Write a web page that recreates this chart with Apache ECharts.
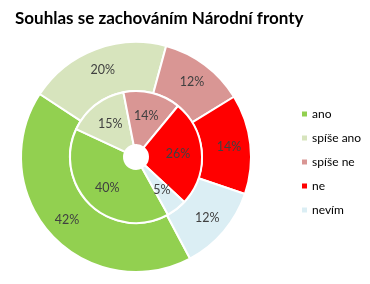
<!DOCTYPE html>
<html><head><meta charset="utf-8">
<script src="https://cdn.jsdelivr.net/npm/echarts@6/dist/echarts.min.js"></script>
<style>html,body{margin:0;padding:0;background:#fff}#c{width:370px;height:284px}</style>
</head><body><div id="c"></div>
<script>
const categories = ['ano', 'spíše ano', 'spíše ne', 'ne', 'nevím'];
const populace = [42, 20, 12, 14, 12];
const clenove = [40, 15, 14, 26, 5];
const colors = ['#92D050', '#D7E4BD', '#D99694', '#FF0000', '#DBEEF4'];
const fontFam = 'Lato, "Open Sans", sans-serif';

const chart = echarts.init(document.getElementById('c'), null, {renderer: 'canvas'});
function mk(vals) {
  return categories.map((n, i) => ({name: n, value: vals[i], itemStyle: {color: colors[i]}}));
}
const lbl = {
  show: true, position: 'inside', formatter: '{c}%',
  color: '#404040', fontSize: 12.5, fontFamily: fontFam
};
chart.setOption({
  animation: false,
  title: {
    text: 'Souhlas se zachováním Národní fronty', left: 10, top: 5,
    textStyle: {fontSize: 17, fontWeight: 'bold', color: '#000', fontFamily: fontFam}
  },
  legend: {
    orient: 'vertical', left: 295, top: 103, itemWidth: 7, itemHeight: 7, itemGap: 12,
    icon: 'rect', data: categories,
    textStyle: {fontSize: 12, color: '#000', fontFamily: fontFam, padding: [0, 0, 0, -1]}
  },
  series: [
    {
      type: 'pie', name: 'populace', center: [136, 157], radius: [66, 115],
      startAngle: -62, clockwise: true, label: lbl, labelLine: {show: false},
      itemStyle: {borderColor: '#fff', borderWidth: 2}, data: mk(populace)
    },
    {
      type: 'pie', name: 'členové ČSS', center: [136, 157], radius: [12, 66],
      startAngle: -61, clockwise: true, label: lbl, labelLine: {show: false},
      itemStyle: {borderColor: '#fff', borderWidth: 2}, data: mk(clenove)
    }
  ],
  graphic: [
    {type: 'text', left: 63, top: 68, style: {text: 'populace', font: 'bold 12px ' + fontFam, fill: '#000'}},
    {type: 'text', left: 97, top: 124, style: {text: 'členové ČSS', font: 'bold 12px ' + fontFam, fill: '#000'}}
  ]
});
</script></body></html>
